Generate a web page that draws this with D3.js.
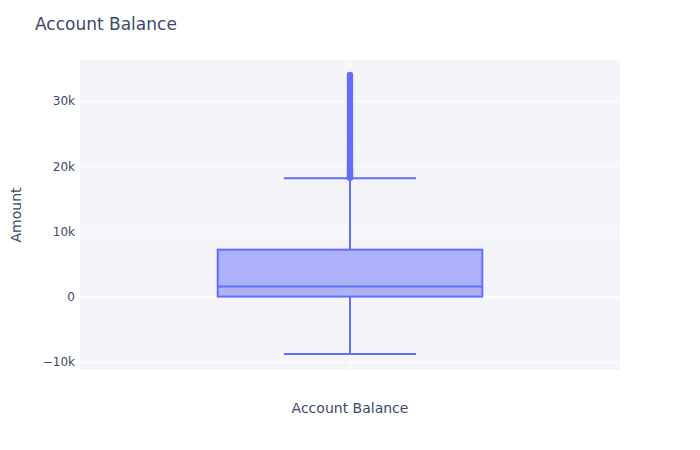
<!DOCTYPE html>
<html><head><meta charset="utf-8">
<script src="https://cdn.jsdelivr.net/npm/d3@7"></script>
<style>body{margin:0;background:#fff}svg{font-family:"DejaVu Sans",Verdana,sans-serif}</style>
</head><body>
<svg id="c" width="700" height="450"></svg>
<script>
const categories = ["Account Balance"];
const lowerFence = [-8780];
const q1 = [20];
const median = [1560];
const q3 = [7220];
const upperFence = [18180];
const outliers = [18230, 18310, 18420, 18560, 18700, 18890, 19050, 19240, 19480, 19700, 19950, 20210, 20480, 20760, 21030, 21350, 21660, 21980, 22300, 22650, 22990, 23320, 23700, 24050, 24400, 24780, 25150, 25500, 25880, 26250, 26600, 26990, 27350, 27700, 28080, 28450, 28800, 29180, 29550, 29900, 30280, 30650, 31000, 31380, 31750, 32100, 32480, 32850, 33200, 33580, 33850, 34000];
const yTicks = [-10000, 0, 10000, 20000, 30000];
const yTickLabels = ["−10k", "0", "10k", "20k", "30k"];

const svg = d3.select("#c");
const L = 80, R = 620, T = 60, B = 370;
const textCol = "#3a4a6a", boxCol = "#636efa";

svg.append("rect").attr("x", L).attr("y", T).attr("width", R - L).attr("height", B - T).attr("fill", "#f5f5f9");

const y = d3.scaleLinear().domain([-11226, 36284]).range([B, T]);
const x = d3.scaleBand().domain(categories).range([L, R]);

const yAxis = d3.axisLeft(y).tickValues(yTicks).tickFormat((d, i) => yTickLabels[i]).tickSize(-(R - L)).tickPadding(6);
const gy = svg.append("g").attr("transform", `translate(${L},0)`).call(yAxis);
gy.select(".domain").remove();
gy.selectAll(".tick line").attr("stroke", "#fff").attr("stroke-width", d => d === 0 ? 2 : 1);
gy.selectAll(".tick text").attr("fill", textCol).attr("font-size", 12).attr("x", -5).attr("font-family", "DejaVu Sans");

const xAxis = d3.axisBottom(x).tickSize(-(B - T)).tickFormat("");
const gx = svg.append("g").attr("transform", `translate(0,${B})`).call(xAxis);
gx.select(".domain").remove();
gx.selectAll(".tick line").attr("stroke", "#fff").attr("stroke-width", 1);

categories.forEach((c, i) => {
  const cx = x(c) + x.bandwidth() / 2;
  const bw = x.bandwidth() * 0.49;
  const g = svg.append("g");
  g.append("line").attr("x1", cx).attr("x2", cx).attr("y1", y(lowerFence[i])).attr("y2", y(q1[i])).attr("stroke", boxCol).attr("stroke-width", 2);
  g.append("line").attr("x1", cx).attr("x2", cx).attr("y1", y(q3[i])).attr("y2", y(upperFence[i])).attr("stroke", boxCol).attr("stroke-width", 2);
  g.append("line").attr("x1", cx - bw / 4).attr("x2", cx + bw / 4).attr("y1", y(lowerFence[i])).attr("y2", y(lowerFence[i])).attr("stroke", boxCol).attr("stroke-width", 2);
  g.append("line").attr("x1", cx - bw / 4).attr("x2", cx + bw / 4).attr("y1", y(upperFence[i])).attr("y2", y(upperFence[i])).attr("stroke", boxCol).attr("stroke-width", 2);
  g.append("rect").attr("x", cx - bw / 2).attr("width", bw).attr("y", y(q3[i])).attr("height", y(q1[i]) - y(q3[i]))
    .attr("fill", "rgba(99,110,250,0.5)").attr("stroke", boxCol).attr("stroke-width", 2);
  g.append("line").attr("x1", cx - bw / 2).attr("x2", cx + bw / 2).attr("y1", y(median[i])).attr("y2", y(median[i])).attr("stroke", boxCol).attr("stroke-width", 2);
  g.selectAll("circle").data(outliers).join("circle").attr("cx", cx).attr("cy", d => y(d)).attr("r", 3.2).attr("fill", boxCol);
});

svg.append("text").attr("x", 35).attr("y", 30).attr("font-size", 17).attr("fill", textCol).text("Account Balance");
svg.append("text").attr("x", (L + R) / 2).attr("y", 413).attr("text-anchor", "middle").attr("font-size", 14).attr("fill", textCol).text("Account Balance");
svg.append("text").attr("transform", `translate(21,${(T + B) / 2}) rotate(-90)`).attr("text-anchor", "middle").attr("font-size", 14).attr("fill", textCol).text("Amount");
</script>
</body></html>
